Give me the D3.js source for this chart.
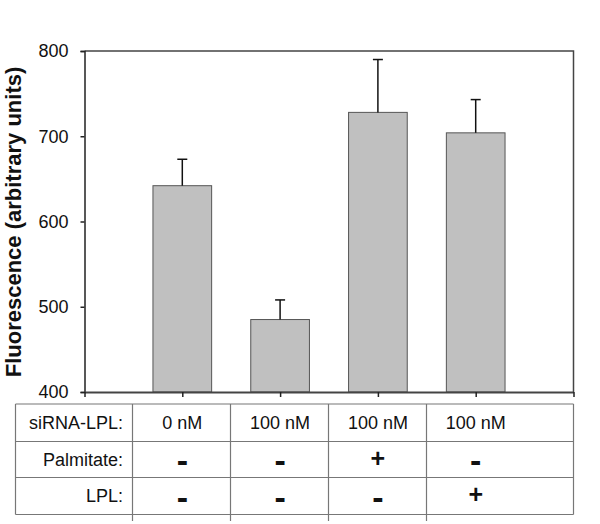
<!DOCTYPE html>
<html>
<head>
<meta charset="utf-8">
<script src="https://cdn.jsdelivr.net/npm/d3@7"></script>
<style>
    body { margin: 0; background: #fff; }
    svg { display: block; font-family: Arial, "Liberation Sans", sans-serif; }
</style>
</head>
<body>
<svg id="chart" width="600" height="524"></svg>
<script>
// values
const groups = ["g1", "g2", "g3", "g4"];
const means = [642, 485, 728, 704];
const errors = [31, 23, 62, 39];
const yTicks = [400, 500, 600, 700, 800];

// condition table
const rowLabels = ["siRNA-LPL:", "Palmitate:", "LPL:"];
const sirnaRow = ["0 nM", "100 nM", "100 nM", "100 nM"];
const palmitateRow = ["-", "-", "+", "-"];
const lplRow = ["-", "-", "-", "+"];

const svg = d3.select("#chart");

const plot = { left: 84.5, right: 573.5, top: 51, bottom: 392 };

const x = d3.scaleLinear()
    .domain([0, 5])
    .range([plot.left, plot.right]);

const y = d3.scaleLinear()
    .domain([400, 800])
    .range([plot.bottom, plot.top]);

const barWidth = (x(1) - x(0)) * 0.6;

// bars
svg.append("g")
    .selectAll("rect")
    .data(means)
    .join("rect")
    .attr("x", (d, i) => x(i + 1) - barWidth / 2)
    .attr("y", d => y(d))
    .attr("width", barWidth)
    .attr("height", d => y(400) - y(d))
    .attr("fill", "#c0c0c0")
    .attr("stroke", "#555")
    .attr("stroke-width", 1);

// error bars (upper only)
let errG = svg.append("g")
    .attr("stroke", "#111")
    .attr("stroke-width", 1.5);

errG.selectAll("line.stem")
    .data(means)
    .join("line")
    .attr("class", "stem")
    .attr("x1", (d, i) => x(i + 1))
    .attr("x2", (d, i) => x(i + 1))
    .attr("y1", d => y(d))
    .attr("y2", (d, i) => y(d + errors[i]));

errG.selectAll("line.cap")
    .data(means)
    .join("line")
    .attr("class", "cap")
    .attr("x1", (d, i) => x(i + 1) - 5)
    .attr("x2", (d, i) => x(i + 1) + 5)
    .attr("y1", (d, i) => y(d + errors[i]))
    .attr("y2", (d, i) => y(d + errors[i]));

// frame: top and right
svg.append("path")
    .attr("d", `M${plot.left},${plot.top}H${plot.right}V${plot.bottom}`)
    .attr("fill", "none")
    .attr("stroke", "#444")
    .attr("stroke-width", 1.5);

// y axis
let yAxis = d3.axisLeft(y)
    .tickValues(yTicks)
    .tickSize(4)
    .tickPadding(12)
    .tickFormat(d3.format("d"));

svg.append("g")
    .attr("transform", `translate(${plot.left},0)`)
    .call(yAxis)
    .call(g => g.select(".domain").attr("stroke", "#222").attr("stroke-width", 1.5))
    .call(g => g.selectAll("line").attr("stroke", "#222").attr("stroke-width", 1.5))
    .call(g => g.selectAll("text")
        .attr("font-size", 18)
        .attr("font-family", "Arial, 'Liberation Sans', sans-serif")
        .attr("fill", "#111"));

// x axis: ticks at bar centres and ends, no labels
let xAxis = d3.axisBottom(x)
    .tickValues([0, 1, 2, 3, 4, 5])
    .tickSize(5)
    .tickSizeOuter(0)
    .tickFormat("");

svg.append("g")
    .attr("transform", `translate(0,${plot.bottom})`)
    .call(xAxis)
    .call(g => g.select(".domain").attr("stroke", "#444").attr("stroke-width", 2))
    .call(g => g.selectAll("line").attr("stroke", "#222").attr("stroke-width", 1.5));

// y title
svg.append("text")
    .attr("transform", "translate(21,222) rotate(-90)")
    .attr("text-anchor", "middle")
    .attr("font-size", 22)
    .attr("font-weight", "bold")
    .attr("fill", "#111")
    .text("Fluorescence (arbitrary units)");

// table under the chart
const table = { left: 15.5, right: plot.right, rows: [404, 441.5, 477.5, 514.5], stubEnd: 521 };
const tableG = svg.append("g")
    .attr("stroke", "#777")
    .attr("stroke-width", 1.2)
    .attr("fill", "none");

tableG.selectAll("line.h")
    .data(table.rows)
    .join("line")
    .attr("class", "h")
    .attr("x1", table.left)
    .attr("x2", table.right)
    .attr("y1", d => d)
    .attr("y2", d => d);

let colEdges = [0.5, 1.5, 2.5, 3.5].map(v => Math.round(x(v)) - 0.5);
tableG.selectAll("line.v")
    .data(colEdges)
    .join("line")
    .attr("class", "v")
    .attr("x1", d => d)
    .attr("x2", d => d)
    .attr("y1", table.rows[0])
    .attr("y2", table.stubEnd);

tableG.append("line")
    .attr("x1", table.left).attr("x2", table.left)
    .attr("y1", table.rows[0]).attr("y2", table.rows[3]);
tableG.append("line")
    .attr("x1", table.right).attr("x2", table.right)
    .attr("y1", table.rows[0]).attr("y2", table.rows[3]);

let rowMid = i => (table.rows[i] + table.rows[i + 1]) / 2;

svg.append("g")
    .selectAll("text")
    .data(rowLabels)
    .join("text")
    .attr("x", 123)
    .attr("y", (d, i) => rowMid(i))
    .attr("dy", "0.36em")
    .attr("text-anchor", "end")
    .attr("font-size", 18)
    .attr("fill", "#111")
    .text(d => d);

svg.append("g")
    .selectAll("text")
    .data(sirnaRow)
    .join("text")
    .attr("x", (d, i) => x(i + 1))
    .attr("y", rowMid(0))
    .attr("dy", "0.36em")
    .attr("text-anchor", "middle")
    .attr("font-size", 18)
    .attr("fill", "#111")
    .text(d => d);

[palmitateRow, lplRow].forEach((row, r) => {
    svg.append("g")
        .selectAll("text")
        .data(row)
        .join("text")
        .attr("x", (d, i) => x(i + 1))
        .attr("y", rowMid(r + 1) - 1)
        .attr("dy", d => d === "+" ? "0.33em" : "0.4em")
        .attr("text-anchor", "middle")
        .attr("font-size", d => d === "+" ? 25 : 34)
        .attr("font-weight", "bold")
        .attr("fill", "#111")
        .text(d => d);
});
</script>
</body>
</html>
